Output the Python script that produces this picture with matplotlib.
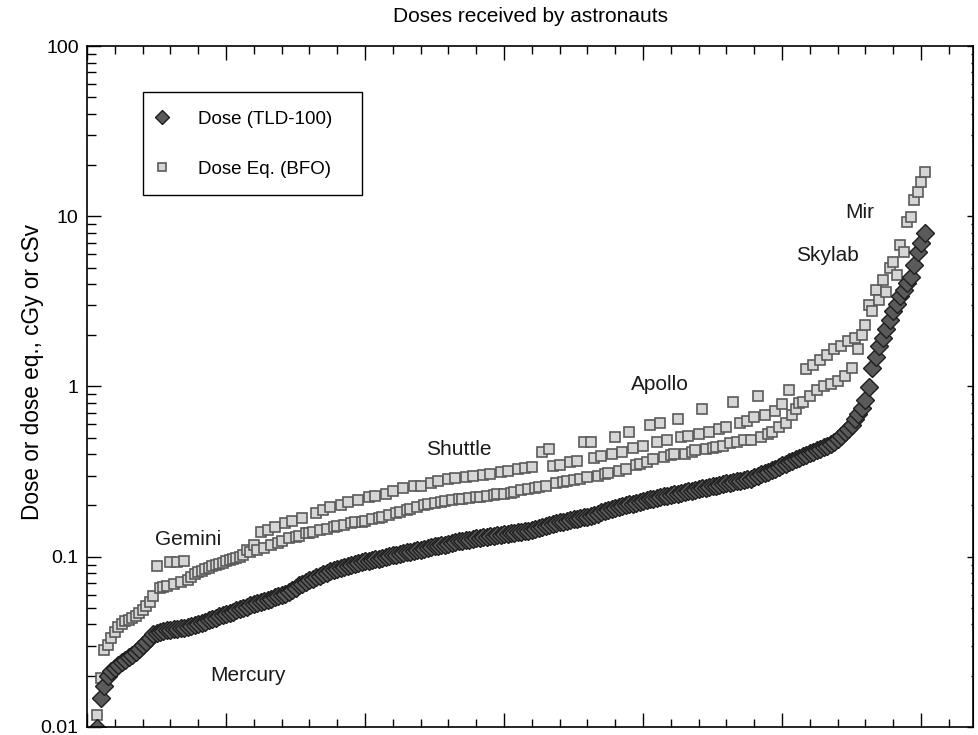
import numpy as np
import matplotlib
matplotlib.use('Agg')
import matplotlib.pyplot as plt
from matplotlib.ticker import LogLocator, NullFormatter
from matplotlib.patches import Rectangle
from matplotlib.lines import Line2D

plt.rcParams['font.family'] = ['Liberation Sans', 'DejaVu Sans']

# dose per astronaut-mission, sorted by TLD dose (cGy)
dose_tld = [
    0.0099, 0.0149, 0.0175, 0.0200, 0.0214, 0.0223, 0.0232, 0.0240, 0.0248, 0.0258,
    0.0266, 0.0276, 0.0288, 0.0302, 0.0317, 0.0334, 0.0350, 0.0358, 0.0363, 0.0368,
    0.0370, 0.0373, 0.0375, 0.0378, 0.0380, 0.0383, 0.0388, 0.0394, 0.0399, 0.0404,
    0.0410, 0.0415, 0.0423, 0.0433, 0.0438, 0.0446, 0.0454, 0.0463, 0.0469, 0.0475,
    0.0485, 0.0493, 0.0502, 0.0508, 0.0518, 0.0527, 0.0535, 0.0544, 0.0551, 0.0559,
    0.0567, 0.0577, 0.0586, 0.0597, 0.0606, 0.0623, 0.0640, 0.0658, 0.0680, 0.0694,
    0.0710, 0.0726, 0.0743, 0.0758, 0.0773, 0.0789, 0.0805, 0.0824, 0.0841, 0.0852,
    0.0862, 0.0873, 0.0885, 0.0897, 0.0905, 0.0916, 0.0928, 0.0941, 0.0950, 0.0960,
    0.0967, 0.0976, 0.0986, 0.0996, 0.101, 0.102, 0.103, 0.104, 0.105, 0.106,
    0.107, 0.108, 0.109, 0.110, 0.111, 0.113, 0.114, 0.115, 0.116, 0.117,
    0.118, 0.119, 0.120, 0.122, 0.123, 0.124, 0.125, 0.126, 0.127, 0.128,
    0.129, 0.130, 0.131, 0.132, 0.133, 0.134, 0.135, 0.136, 0.136, 0.137,
    0.138, 0.139, 0.140, 0.141, 0.142, 0.143, 0.145, 0.147, 0.149, 0.151,
    0.153, 0.156, 0.157, 0.159, 0.161, 0.163, 0.164, 0.166, 0.167, 0.169,
    0.171, 0.172, 0.174, 0.177, 0.179, 0.182, 0.185, 0.187, 0.190, 0.193,
    0.196, 0.198, 0.200, 0.203, 0.205, 0.208, 0.210, 0.212, 0.215, 0.217,
    0.219, 0.222, 0.224, 0.226, 0.228, 0.231, 0.233, 0.235, 0.238, 0.239,
    0.242, 0.244, 0.247, 0.249, 0.252, 0.254, 0.257, 0.259, 0.262, 0.265,
    0.267, 0.270, 0.272, 0.275, 0.277, 0.280, 0.282, 0.285, 0.288, 0.294,
    0.299, 0.305, 0.310, 0.316, 0.322, 0.329, 0.336, 0.344, 0.352, 0.360,
    0.367, 0.375, 0.382, 0.390, 0.398, 0.406, 0.414, 0.422, 0.431, 0.439,
    0.449, 0.458, 0.470, 0.492, 0.515, 0.538, 0.561, 0.595, 0.641, 0.689,
    0.748, 0.834, 0.987, 1.28, 1.50, 1.72, 1.94, 2.17, 2.47, 2.77,
    3.07, 3.38, 3.69, 4.03, 4.40, 5.20, 6.20, 7.00, 8.00,
]

# dose equivalent for the same astronaut-missions (cSv)
dose_eq = [
    0.0118, 0.0195, 0.0285, 0.0305, 0.0335, 0.0363, 0.0388, 0.0404, 0.0421, 0.0427,
    0.0438, 0.0450, 0.0469, 0.0488, 0.0515, 0.0544, 0.0590, 0.0885, 0.0658, 0.0667,
    0.0676, 0.0935, 0.0694, 0.0935, 0.0713, 0.0947, 0.0733, 0.0763, 0.0795, 0.0816,
    0.0828, 0.0850, 0.0862, 0.0885, 0.0897, 0.0910, 0.0922, 0.0947, 0.0960, 0.0973,
    0.0987, 0.100, 0.103, 0.109, 0.106, 0.118, 0.109, 0.140, 0.113, 0.144,
    0.118, 0.150, 0.121, 0.124, 0.157, 0.128, 0.162, 0.131, 0.133, 0.170,
    0.137, 0.138, 0.140, 0.180, 0.144, 0.189, 0.146, 0.195, 0.150, 0.152,
    0.200, 0.154, 0.209, 0.157, 0.159, 0.215, 0.161, 0.163, 0.223, 0.167,
    0.226, 0.169, 0.172, 0.235, 0.177, 0.242, 0.181, 0.184, 0.252, 0.189,
    0.191, 0.259, 0.197, 0.262, 0.202, 0.205, 0.270, 0.208, 0.277, 0.210,
    0.213, 0.285, 0.216, 0.289, 0.219, 0.219, 0.293, 0.222, 0.297, 0.225,
    0.225, 0.301, 0.228, 0.305, 0.231, 0.235, 0.313, 0.235, 0.317, 0.238,
    0.241, 0.326, 0.248, 0.330, 0.251, 0.335, 0.254, 0.258, 0.415, 0.261,
    0.427, 0.339, 0.272, 0.344, 0.276, 0.280, 0.358, 0.283, 0.363, 0.287,
    0.469, 0.295, 0.475, 0.378, 0.299, 0.388, 0.307, 0.312, 0.399, 0.502,
    0.320, 0.415, 0.329, 0.537, 0.433, 0.344, 0.349, 0.450, 0.358, 0.598,
    0.373, 0.469, 0.607, 0.383, 0.482, 0.394, 0.399, 0.640, 0.502, 0.404,
    0.509, 0.415, 0.421, 0.523, 0.733, 0.427, 0.544, 0.433, 0.439, 0.560,
    0.450, 0.575, 0.463, 0.816, 0.475, 0.607, 0.482, 0.631, 0.488, 0.658,
    0.874, 0.502, 0.676, 0.523, 0.537, 0.714, 0.575, 0.784, 0.607, 0.960,
    0.676, 0.733, 0.795, 0.816, 1.26, 0.874, 1.33, 0.960, 1.44, 1.00,
    1.54, 1.04, 1.65, 1.08, 1.74, 1.16, 1.86, 1.29, 1.94, 1.65,
    2.02, 2.31, 3.03, 2.76, 3.71, 3.24, 4.25, 3.61, 5.00, 5.42,
    4.54, 6.82, 6.20, 9.30, 9.90, 12.5, 13.8, 15.8, 18.3,
]

rank = np.arange(1, len(dose_tld) + 1)

programs = ['Mercury', 'Gemini', 'Shuttle', 'Apollo', 'Skylab', 'Mir']
prog_x = [44.3, 27.1, 105, 162.9, 211, 220.4]
prog_y = [0.0201, 0.126, 0.427, 1.03, 5.88, 10.5]

fig = plt.figure(figsize=(9.79, 7.35), dpi=100)
ax = fig.add_axes([0.0889, 0.0109, 0.905, 0.9265])

sq_style = dict(ls='none', marker='s', mfc='#d6d6d6', mec='#5a5a5a', mew=1.2)
dm_style = dict(ls='none', marker='D', mfc='#5a5a5a', mec='#1e1e1e', mew=1.0)

ax.plot(rank, dose_eq, ms=7.6, **sq_style)
ax.plot(rank, dose_tld, ms=9.5, **dm_style)

ax.set_yscale('log')
ax.set_ylim(0.01, 100)
ax.set_xlim(-2, 252.96)

# x axis: ticks only, no labels
ax.set_xticks(np.arange(-2, 253, 40))
ax.set_xticks(np.arange(-2, 253, 8), minor=True)
ax.tick_params(axis='x', which='both', direction='in', top=True, bottom=True,
               labelbottom=False, width=1)
ax.tick_params(axis='x', which='major', length=10)
ax.tick_params(axis='x', which='minor', length=6)

ax.set_yticks([0.01, 0.1, 1, 10, 100])
ax.set_yticklabels(['0.01', '0.1', '1', '10', '100'])
ax.yaxis.set_minor_locator(LogLocator(base=10, subs=np.arange(2, 10)))
ax.yaxis.set_minor_formatter(NullFormatter())
ax.tick_params(axis='y', which='major', direction='in', length=10, width=1,
               labelsize=14, pad=6)
ax.tick_params(axis='y', which='minor', direction='in', length=6.5, width=1)

# small ticks on the right side
sec = ax.secondary_yaxis('right')
sec.set_yticks([0.01, 0.1, 1, 10, 100])
sec.yaxis.set_minor_locator(LogLocator(base=10, subs=np.arange(2, 10)))
sec.yaxis.set_major_formatter(NullFormatter())
sec.yaxis.set_minor_formatter(NullFormatter())
sec.tick_params(axis='y', which='major', direction='in', length=4.3, width=1)
sec.tick_params(axis='y', which='minor', direction='in', length=1.8, width=1)

for s in ax.spines.values():
    s.set_linewidth(1.2)

for name, x, y in zip(programs, prog_x, prog_y):
    ax.text(x, y, name, ha='center', va='center', fontsize=15, color='#1a1a1a')

ax.set_title('Doses received by astronauts', fontsize=15, pad=17)
ax.set_ylabel('Dose or dose eq., cGy or cSv', fontsize=16.3)
ax.yaxis.set_label_coords(-0.0486, 0.521)

# legend with a plain box
ax.add_patch(Rectangle((0.0632, 0.781), 0.2472, 0.1515, transform=ax.transAxes,
                       fill=False, ec='black', lw=1, zorder=5))
handles = [Line2D([], [], ms=7.5, **dm_style), Line2D([], [], ms=6.2, **sq_style)]
ax.legend(handles, ['Dose (TLD-100)', 'Dose Eq. (BFO)'], loc='upper left',
          bbox_to_anchor=(0.0529, 0.9325), borderaxespad=0, fontsize=13.5,
          frameon=False, borderpad=1.0, labelspacing=1.74, handlelength=1.0,
          handletextpad=1.4, numpoints=1)

fig.savefig('out.png', dpi=100)
